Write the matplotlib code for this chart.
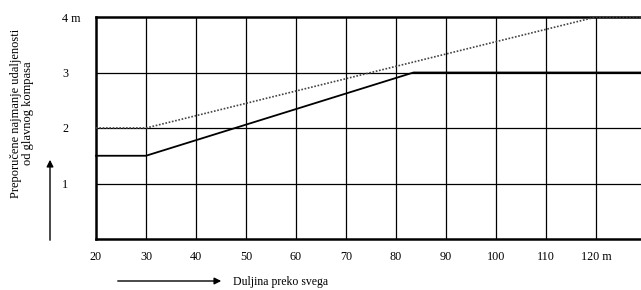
import matplotlib
matplotlib.use("Agg")
import matplotlib.pyplot as plt

plt.rcParams['font.family'] = ['Liberation Serif', 'DejaVu Serif']

# Data
solid_x = [20, 30, 83.5, 129]
solid_y = [1.5, 1.5, 3, 3]
dotted_x = [20, 30, 120, 129]
dotted_y = [2, 2, 4, 4]
x_ticks = [20, 30, 40, 50, 60, 70, 80, 90, 100, 110, 120]
x_labels = ["20", "30", "40", "50", "60", "70", "80", "90", "100", "110", "120 m"]
y_ticks = [1, 2, 3, 4]
y_labels = ["1", "2", "3", "4 m"]
y_title = "Preporučene najmanje udaljenosti\nod glavnog kompasa"
x_title = "Duljina preko svega"

W, H = 641, 290
fig = plt.figure(figsize=(W / 100, H / 100), dpi=100)
ax = fig.add_axes([96 / W, 1 - 239 / H, 545 / W, 222 / H])
ax.set_xlim(20, 129)
ax.set_ylim(0, 4)

for xv in x_ticks[1:]:
    ax.axvline(xv, color='black', lw=0.9, zorder=1)
for yv in y_ticks[:-1]:
    ax.axhline(yv, color='black', lw=0.9, zorder=1)

ax.plot(solid_x, solid_y, color='black', lw=1.3, zorder=3, clip_on=False)
ax.plot(dotted_x, dotted_y, color='#444444', lw=1.2, linestyle=(0, (1, 1)), zorder=4, clip_on=False)

for s in ['left', 'top', 'bottom']:
    ax.spines[s].set_linewidth(1.8)
ax.spines['right'].set_visible(False)

ax.set_xticks(x_ticks)
ax.set_xticklabels(x_labels, fontsize=8.7)
ax.set_yticks(y_ticks)
ax.set_yticklabels(y_labels, fontsize=8.7, ha='left')
ax.tick_params(axis='x', length=0, pad=9)
ax.tick_params(axis='y', length=0, pad=24.5)

fig.text(22 / W, 1 - 113 / H, y_title, rotation=90, ha='center', va='center',
         fontsize=9, linespacing=1.0)
fig.text(233 / W, 1 - 282 / H, x_title, ha='left', va='center', fontsize=8.5)

fig.patches.append(matplotlib.patches.FancyArrowPatch(
    (50 / W, 1 - 243 / H), (50 / W, 1 - 157 / H), transform=fig.transFigure,
    arrowstyle='-|>', mutation_scale=10, color='black', lw=1.0))
fig.patches.append(matplotlib.patches.FancyArrowPatch(
    (115 / W, 1 - 281 / H), (224 / W, 1 - 281 / H), transform=fig.transFigure,
    arrowstyle='-|>', mutation_scale=10, color='black', lw=1.0))

fig.savefig("out.png", dpi=100)
